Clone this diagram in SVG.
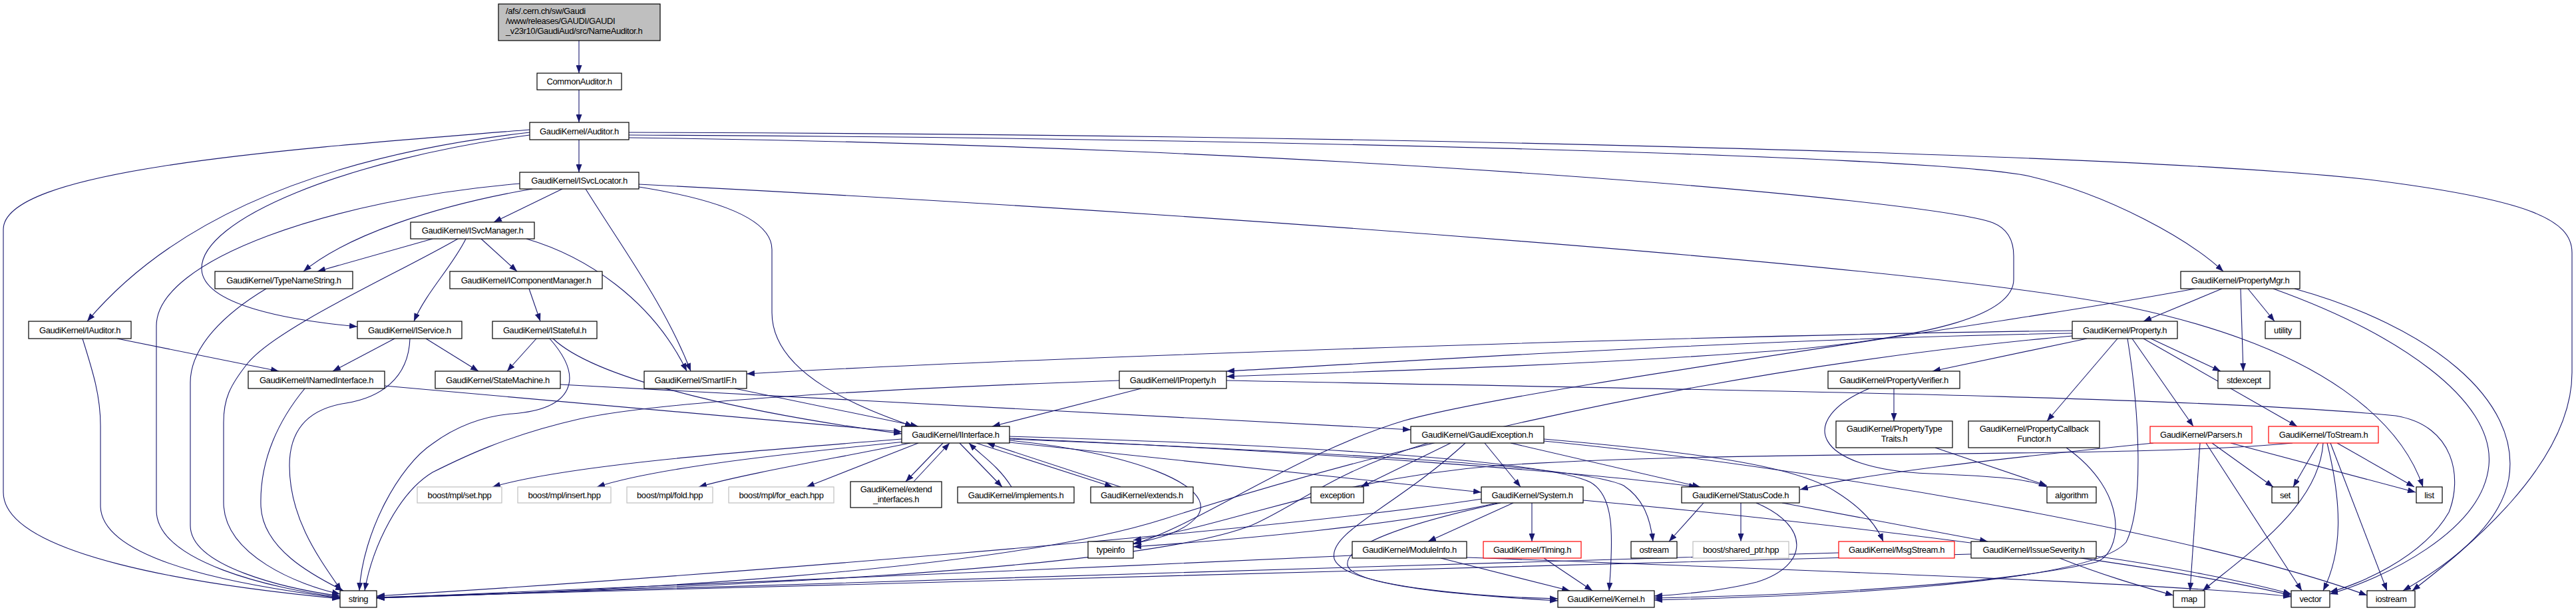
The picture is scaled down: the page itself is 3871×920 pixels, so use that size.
<svg xmlns="http://www.w3.org/2000/svg" width="3871" height="920" viewBox="0 0 3871 920">
<style>
.e{fill:none;stroke:#191970;stroke-width:1.1;marker-end:url(#a)}
.n rect{fill:#fff;stroke:#000;stroke-width:1.2}
.g rect{stroke:#bfbfbf}
.r rect{stroke:#ff0000}
.root rect{fill:#bfbfbf}
text{font-family:"Liberation Sans",Arial,Helvetica,sans-serif;font-size:13px;letter-spacing:-0.4px;fill:#000;text-anchor:middle}
.l{text-anchor:start}
</style>
<defs>
<marker id="a" markerWidth="12" markerHeight="9" refX="12" refY="4.5" orient="auto" markerUnits="userSpaceOnUse"><path d="M0,0 L12,4.5 L0,9 z" fill="#191970"/></marker>
</defs>
<rect width="3871" height="920" fill="#fff"/>
<g id="edges">
<path class="e" d="M870,61 L870,110"/>
<path class="e" d="M870,135 L870,184"/>
<path class="e" d="M870,210 L870,259"/>
<path class="e" d="M796,195 C420,225 5,255 5,345 L5,740 C5,835 300,880 511,900"/>
<path class="e" d="M796,199 C480,235 260,330 131,483"/>
<path class="e" d="M796,203 C520,240 300,330 303,405 C306,460 440,482 537,491"/>
<path class="e" d="M945,203 C1800,207 2900,232 3050,265 C3170,293 3290,360 3341,408"/>
<path class="e" d="M945,207 C2000,220 2900,300 2995,335 C3020,345 3026,365 3026,385 L3026,420 C3026,475 2900,505 2700,525 C2350,552 2000,560 1843,566"/>
<path class="e" d="M945,199 C2000,202 3200,230 3560,270 C3800,300 3865,330 3865,380 L3865,560 C3865,700 3700,830 3625,888"/>
<path class="e" d="M781,276 C500,300 235,390 235,490 L235,767 C235,845 410,885 511,898"/>
<path class="e" d="M800,284 C650,310 520,355 456,408"/>
<path class="e" d="M845,284 L742,334"/>
<path class="e" d="M880,284 C940,380 1000,460 1038,558"/>
<path class="e" d="M960,281 C1080,300 1160,330 1160,375 L1160,470 C1160,565 1300,615 1372,641"/>
<path class="e" d="M960,277 C1800,320 2900,400 3200,462 C3500,525 3610,640 3641,732"/>
<path class="e" d="M650,359 L477,408"/>
<path class="e" d="M688,359 C600,410 420,490 373,545 C345,580 336,600 336,635 L336,755 C336,835 450,880 511,893"/>
<path class="e" d="M700,359 C680,400 640,440 622,483"/>
<path class="e" d="M723,359 L777,408"/>
<path class="e" d="M791,359 C880,385 980,450 1032,558"/>
<path class="e" d="M795,434 L812,483"/>
<path class="e" d="M400,434 C340,470 286,520 286,575 L286,790 C286,852 430,885 511,896"/>
<path class="e" d="M176,509 L419,558"/>
<path class="e" d="M124,509 C140,560 151,595 151,640 L151,760 C151,850 400,885 511,899"/>
<path class="e" d="M593,509 L500,558"/>
<path class="e" d="M640,509 L719,558"/>
<path class="e" d="M616,509 C614,570 570,598 520,606 C460,615 435,650 435,700 C435,780 480,840 513,888"/>
<path class="e" d="M806,509 L762,558"/>
<path class="e" d="M831,509 C900,575 1150,625 1355,652"/>
<path class="e" d="M826,509 C880,570 860,615 770,622 C720,626 680,645 650,667 C600,700 545,800 540,888"/>
<path class="e" d="M578,580 L1355,649"/>
<path class="e" d="M458,584 C420,630 390,690 392,760 C394,825 470,865 516,888"/>
<path class="e" d="M842,578 L2120,646"/>
<path class="e" d="M1104,584 L1380,641"/>
<path class="e" d="M1715,584 L1491,641"/>
<path class="e" d="M1682,572 C1300,585 980,605 870,630 C760,655 690,690 650,710 C600,740 560,820 548,888"/>
<path class="e" d="M3339,434 L3221,483"/>
<path class="e" d="M3378,434 L3418,483"/>
<path class="e" d="M3367,434 L3371,558"/>
<path class="e" d="M3298,434 C3000,490 2300,580 2111,632 C1950,680 1800,790 1703,818"/>
<path class="e" d="M3416,434 C3600,500 3750,600 3740,700 C3730,800 3580,870 3501,893"/>
<path class="e" d="M3448,434 C3650,490 3790,600 3770,720 C3755,800 3660,860 3611,888"/>
<path class="e" d="M3136,509 L2904,558"/>
<path class="e" d="M3182,509 L3076,633"/>
<path class="e" d="M3204,509 L3296,641"/>
<path class="e" d="M3221,509 L3452,641"/>
<path class="e" d="M3232,509 L3337,558"/>
<path class="e" d="M3114,497 C2500,505 1500,540 1122,562"/>
<path class="e" d="M3114,501 C2600,510 2000,550 1843,558"/>
<path class="e" d="M3114,505 C2500,560 2000,700 1750,780 C1500,860 900,890 566,899"/>
<path class="e" d="M3197,509 C3215,620 3222,760 3195,815 C3140,880 2700,897 2486,902"/>
<path class="e" d="M1843,572 C2500,585 3300,595 3600,625 C3690,640 3700,720 3680,770 C3640,840 3540,880 3501,890"/>
<path class="e" d="M1355,660 C1100,680 850,700 740,732"/>
<path class="e" d="M1360,664 C1150,685 980,705 897,732"/>
<path class="e" d="M1368,666 C1250,690 1120,712 1050,732"/>
<path class="e" d="M1380,666 L1212,732"/>
<path class="e" d="M1417,666 L1361,724"/>
<path class="e" d="M1373,724 L1427,666"/>
<path class="e" d="M1442,666 L1506,732"/>
<path class="e" d="M1520,732 C1500,700 1475,685 1456,666"/>
<path class="e" d="M1467,666 L1672,732"/>
<path class="e" d="M1684,732 L1483,666"/>
<path class="e" d="M1517,662 C1700,680 1830,730 1800,775 C1780,800 1740,810 1703,817"/>
<path class="e" d="M1517,656 C2000,670 2330,695 2390,725 C2425,745 2425,800 2418,888"/>
<path class="e" d="M1517,665 L2226,740"/>
<path class="e" d="M1517,659 C2000,680 2400,712 2550,732"/>
<path class="e" d="M1517,660 C2000,680 2380,700 2440,730 C2470,750 2480,780 2484,814"/>
<path class="e" d="M2180,666 L2045,732"/>
<path class="e" d="M2231,666 L2285,732"/>
<path class="e" d="M2270,666 L2555,732"/>
<path class="e" d="M2146,666 C2000,710 1950,760 1880,790 C1700,860 1000,885 566,899"/>
<path class="e" d="M2202,666 C2100,760 1995,800 2005,840 C2020,885 2250,898 2341,900"/>
<path class="e" d="M2320,663 C2700,700 3300,800 3557,895"/>
<path class="e" d="M2320,660 C2550,680 2700,700 2760,740 C2800,765 2820,790 2830,814"/>
<path class="e" d="M2274,756 L2146,814"/>
<path class="e" d="M2302,756 L2302,814"/>
<path class="e" d="M2255,756 C2100,790 2020,822 2025,850 C2035,885 2250,898 2341,903"/>
<path class="e" d="M2227,750 C1900,800 1000,870 566,896"/>
<path class="e" d="M2250,756 C2100,790 1850,812 1703,822"/>
<path class="e" d="M2379,752 C2900,800 3300,860 3443,895"/>
<path class="e" d="M2165,839 L2359,888"/>
<path class="e" d="M2032,835 C1500,860 900,885 566,899"/>
<path class="e" d="M2204,838 C2800,860 3300,880 3443,897"/>
<path class="e" d="M2320,839 L2393,888"/>
<path class="e" d="M2560,756 L2508,814"/>
<path class="e" d="M2616,756 L2616,814"/>
<path class="e" d="M2678,756 L2987,814"/>
<path class="e" d="M2639,756 C2720,790 2720,850 2640,875 C2580,890 2520,894 2486,896"/>
<path class="e" d="M2962,833 C2000,860 1000,880 566,898"/>
<path class="e" d="M3095,839 C3160,865 3220,882 3266,895"/>
<path class="e" d="M3149,836 C3250,850 3380,875 3443,893"/>
<path class="e" d="M2763,831 C2000,855 1000,880 566,898"/>
<path class="e" d="M2846,584 L2846,633"/>
<path class="e" d="M2809,584 C2700,630 2720,705 2900,712 C3000,716 3050,720 3076,732"/>
<path class="e" d="M2908,673 L3076,730"/>
<path class="e" d="M3105,673 C3200,740 3190,830 3150,845 C3000,880 2700,895 2486,899"/>
<path class="e" d="M3306,666 L3291,888"/>
<path class="e" d="M3315,666 L3459,888"/>
<path class="e" d="M3324,666 L3416,732"/>
<path class="e" d="M3352,666 L3630,740"/>
<path class="e" d="M3236,666 C3000,690 2800,712 2705,736"/>
<path class="e" d="M3484,666 L3446,732"/>
<path class="e" d="M3512,666 L3628,732"/>
<path class="e" d="M3491,666 C3485,760 3380,830 3310,888"/>
<path class="e" d="M3497,666 C3520,760 3520,830 3491,888"/>
<path class="e" d="M3502,666 L3587,888"/>
<path class="e" d="M3445,666 C3200,690 2600,675 2250,700 C2000,720 1850,790 1703,812"/>
</g>
<g id="root" class="n root"><rect x="749" y="6" width="243" height="55"/><text class="l" x="760" y="21">/afs/.cern.ch/sw/Gaudi</text><text class="l" x="760" y="36">/www/releases/GAUDI/GAUDI</text><text class="l" x="760" y="50.5">_v23r10/GaudiAud/src/NameAuditor.h</text></g>
<g id="n_common" class="n"><rect x="807" y="110" width="127" height="25"/><text x="870.5" y="127">CommonAuditor.h</text></g>
<g id="n_auditor" class="n"><rect x="796" y="184" width="149" height="26"/><text x="870.5" y="201.5">GaudiKernel/Auditor.h</text></g>
<g id="n_isvclocator" class="n"><rect x="781" y="259" width="179" height="25"/><text x="870.5" y="276">GaudiKernel/ISvcLocator.h</text></g>
<g id="n_isvcmanager" class="n"><rect x="617" y="334" width="186" height="25"/><text x="710" y="351">GaudiKernel/ISvcManager.h</text></g>
<g id="n_icompmgr" class="n"><rect x="676" y="408" width="229" height="26"/><text x="790.5" y="425.5">GaudiKernel/IComponentManager.h</text></g>
<g id="n_typename" class="n"><rect x="323" y="408" width="207" height="26"/><text x="426.5" y="425.5">GaudiKernel/TypeNameString.h</text></g>
<g id="n_propmgr" class="n"><rect x="3277" y="408" width="179" height="26"/><text x="3366.5" y="425.5">GaudiKernel/PropertyMgr.h</text></g>
<g id="n_iauditor" class="n"><rect x="43" y="483" width="154" height="26"/><text x="120" y="500.5">GaudiKernel/IAuditor.h</text></g>
<g id="n_iservice" class="n"><rect x="537" y="483" width="157" height="26"/><text x="615.5" y="500.5">GaudiKernel/IService.h</text></g>
<g id="n_istateful" class="n"><rect x="740" y="483" width="157" height="26"/><text x="818.5" y="500.5">GaudiKernel/IStateful.h</text></g>
<g id="n_property" class="n"><rect x="3114" y="483" width="158" height="26"/><text x="3193" y="500.5">GaudiKernel/Property.h</text></g>
<g id="n_utility" class="n"><rect x="3404" y="483" width="53" height="26"/><text x="3430.5" y="500.5">utility</text></g>
<g id="n_inamed" class="n"><rect x="373" y="558" width="205" height="26"/><text x="475.5" y="575.5">GaudiKernel/INamedInterface.h</text></g>
<g id="n_statemachine" class="n"><rect x="654" y="558" width="188" height="26"/><text x="748" y="575.5">GaudiKernel/StateMachine.h</text></g>
<g id="n_smartif" class="n"><rect x="968" y="558" width="154" height="26"/><text x="1045" y="575.5">GaudiKernel/SmartIF.h</text></g>
<g id="n_iproperty" class="n"><rect x="1682" y="558" width="161" height="26"/><text x="1762.5" y="575.5">GaudiKernel/IProperty.h</text></g>
<g id="n_propverifier" class="n"><rect x="2747" y="558" width="198" height="26"/><text x="2846" y="575.5">GaudiKernel/PropertyVerifier.h</text></g>
<g id="n_stdexcept" class="n"><rect x="3333" y="558" width="78" height="26"/><text x="3372" y="575.5">stdexcept</text></g>
<g id="n_proptypetraits" class="n"><rect x="2759" y="633" width="175" height="40"/><text x="2846.5" y="649">GaudiKernel/PropertyType</text><text x="2846.5" y="664">Traits.h</text></g>
<g id="n_propcallback" class="n"><rect x="2958" y="633" width="197" height="40"/><text x="3056.5" y="649">GaudiKernel/PropertyCallback</text><text x="3056.5" y="664">Functor.h</text></g>
<g id="n_iinterface" class="n"><rect x="1355" y="641" width="162" height="25"/><text x="1436" y="658">GaudiKernel/IInterface.h</text></g>
<g id="n_gaudiexception" class="n"><rect x="2120" y="641" width="200" height="25"/><text x="2220" y="658">GaudiKernel/GaudiException.h</text></g>
<g id="n_parsers" class="n r"><rect x="3231" y="641" width="153" height="25"/><text x="3307.5" y="658">GaudiKernel/Parsers.h</text></g>
<g id="n_tostream" class="n r"><rect x="3409" y="641" width="165" height="25"/><text x="3491.5" y="658">GaudiKernel/ToStream.h</text></g>
<g id="n_mplset" class="n g"><rect x="627" y="732" width="127" height="24"/><text x="690.5" y="748.5">boost/mpl/set.hpp</text></g>
<g id="n_mplinsert" class="n g"><rect x="778" y="732" width="140" height="24"/><text x="848" y="748.5">boost/mpl/insert.hpp</text></g>
<g id="n_mplfold" class="n g"><rect x="942" y="732" width="129" height="24"/><text x="1006.5" y="748.5">boost/mpl/fold.hpp</text></g>
<g id="n_mplforeach" class="n g"><rect x="1095" y="732" width="158" height="24"/><text x="1174" y="748.5">boost/mpl/for_each.hpp</text></g>
<g id="n_extendif" class="n"><rect x="1278" y="724" width="137" height="39"/><text x="1346.5" y="740">GaudiKernel/extend</text><text x="1346.5" y="755">_interfaces.h</text></g>
<g id="n_implements" class="n"><rect x="1439" y="732" width="175" height="24"/><text x="1526.5" y="748.5">GaudiKernel/implements.h</text></g>
<g id="n_extends" class="n"><rect x="1639" y="732" width="154" height="24"/><text x="1716" y="748.5">GaudiKernel/extends.h</text></g>
<g id="n_exception" class="n"><rect x="1970" y="732" width="79" height="24"/><text x="2009.5" y="748.5">exception</text></g>
<g id="n_system" class="n"><rect x="2226" y="732" width="153" height="24"/><text x="2302.5" y="748.5">GaudiKernel/System.h</text></g>
<g id="n_statuscode" class="n"><rect x="2527" y="732" width="177" height="24"/><text x="2615.5" y="748.5">GaudiKernel/StatusCode.h</text></g>
<g id="n_algorithm" class="n"><rect x="3076" y="732" width="74" height="24"/><text x="3113" y="748.5">algorithm</text></g>
<g id="n_set" class="n"><rect x="3414" y="732" width="40" height="24"/><text x="3434" y="748.5">set</text></g>
<g id="n_list" class="n"><rect x="3631" y="732" width="39" height="24"/><text x="3650.5" y="748.5">list</text></g>
<g id="n_typeinfo" class="n"><rect x="1635" y="814" width="68" height="25"/><text x="1669" y="831">typeinfo</text></g>
<g id="n_moduleinfo" class="n"><rect x="2032" y="814" width="172" height="25"/><text x="2118" y="831">GaudiKernel/ModuleInfo.h</text></g>
<g id="n_timing" class="n r"><rect x="2229" y="814" width="147" height="25"/><text x="2302.5" y="831">GaudiKernel/Timing.h</text></g>
<g id="n_ostream" class="n"><rect x="2451" y="814" width="69" height="25"/><text x="2485.5" y="831">ostream</text></g>
<g id="n_sharedptr" class="n g"><rect x="2544" y="814" width="144" height="25"/><text x="2616" y="831">boost/shared_ptr.hpp</text></g>
<g id="n_msgstream" class="n r"><rect x="2763" y="814" width="174" height="25"/><text x="2850" y="831">GaudiKernel/MsgStream.h</text></g>
<g id="n_issue" class="n"><rect x="2962" y="814" width="188" height="25"/><text x="3056" y="831">GaudiKernel/IssueSeverity.h</text></g>
<g id="n_string" class="n"><rect x="511" y="888" width="55" height="25"/><text x="538.5" y="905">string</text></g>
<g id="n_kernel" class="n"><rect x="2341" y="888" width="145" height="25"/><text x="2413.5" y="905">GaudiKernel/Kernel.h</text></g>
<g id="n_map" class="n"><rect x="3266" y="888" width="47" height="25"/><text x="3289.5" y="905">map</text></g>
<g id="n_vector" class="n"><rect x="3443" y="888" width="58" height="25"/><text x="3472" y="905">vector</text></g>
<g id="n_iostream" class="n"><rect x="3557" y="888" width="72" height="25"/><text x="3593" y="905">iostream</text></g>
</svg>
